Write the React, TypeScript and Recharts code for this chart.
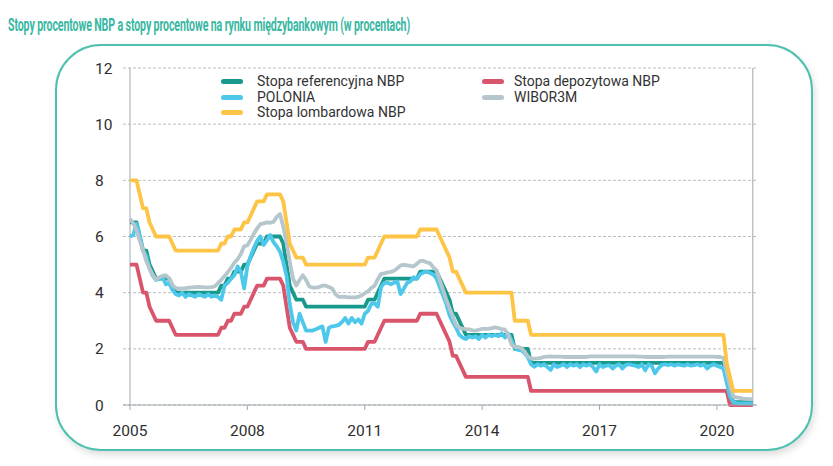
import React, { useLayoutEffect, useRef, useState } from 'react';
import { LineChart, Line, XAxis, YAxis, CartesianGrid, ReferenceLine } from 'recharts';

const W = 833;
const H = 466;
const FONT = 'Roboto, "Noto Sans", sans-serif';
const TITLE = 'Stopy procentowe NBP a stopy procentowe na rynku międzybankowym (w procentach)';

const X_TICKS = [2005, 2008, 2011, 2014, 2017, 2020];
const Y_TICKS = [0, 2, 4, 6, 8, 10, 12];
const YEARS = [2005, 2006, 2007, 2008, 2009, 2010, 2011, 2012, 2013, 2014, 2015, 2016, 2017, 2018, 2019, 2020];

// Stopa referencyjna NBP, monthly 2005-01 .. 2020-12
const REF = [
  6.5, 6.5, 6.5, 6.0, 5.5, 5.5, 5.0, 4.75, 4.5, 4.5, 4.5, 4.5,
  4.5, 4.25, 4.0, 4.0, 4.0, 4.0, 4.0, 4.0, 4.0, 4.0, 4.0, 4.0,
  4.0, 4.0, 4.0, 4.0, 4.25, 4.25, 4.5, 4.5, 4.75, 4.75, 4.75, 5.0,
  5.0, 5.25, 5.5, 5.75, 5.75, 5.75, 6.0, 6.0, 6.0, 6.0, 6.0, 5.75,
  5.0, 4.25, 4.0, 3.75, 3.75, 3.75, 3.5, 3.5, 3.5, 3.5, 3.5, 3.5,
  3.5, 3.5, 3.5, 3.5, 3.5, 3.5, 3.5, 3.5, 3.5, 3.5, 3.5, 3.5,
  3.5, 3.75, 3.75, 3.75, 4.0, 4.25, 4.5, 4.5, 4.5, 4.5, 4.5, 4.5,
  4.5, 4.5, 4.5, 4.5, 4.5, 4.75, 4.75, 4.75, 4.75, 4.75, 4.75, 4.5,
  4.25, 4.0, 3.75, 3.25, 3.25, 3.0, 2.75, 2.5, 2.5, 2.5, 2.5, 2.5,
  2.5, 2.5, 2.5, 2.5, 2.5, 2.5, 2.5, 2.5, 2.5, 2.5, 2.0, 2.0,
  2.0, 2.0, 2.0, 1.5, 1.5, 1.5, 1.5, 1.5, 1.5, 1.5, 1.5, 1.5,
  1.5, 1.5, 1.5, 1.5, 1.5, 1.5, 1.5, 1.5, 1.5, 1.5, 1.5, 1.5,
  1.5, 1.5, 1.5, 1.5, 1.5, 1.5, 1.5, 1.5, 1.5, 1.5, 1.5, 1.5,
  1.5, 1.5, 1.5, 1.5, 1.5, 1.5, 1.5, 1.5, 1.5, 1.5, 1.5, 1.5,
  1.5, 1.5, 1.5, 1.5, 1.5, 1.5, 1.5, 1.5, 1.5, 1.5, 1.5, 1.5,
  1.5, 1.5, 1.5, 1.0, 0.5, 0.1, 0.1, 0.1, 0.1, 0.1, 0.1, 0.1,
];

// Stopa lombardowa NBP
const LOMB = [
  8.0, 8.0, 8.0, 7.5, 7.0, 7.0, 6.5, 6.25, 6.0, 6.0, 6.0, 6.0,
  6.0, 5.75, 5.5, 5.5, 5.5, 5.5, 5.5, 5.5, 5.5, 5.5, 5.5, 5.5,
  5.5, 5.5, 5.5, 5.5, 5.75, 5.75, 6.0, 6.0, 6.25, 6.25, 6.25, 6.5,
  6.5, 6.75, 7.0, 7.25, 7.25, 7.25, 7.5, 7.5, 7.5, 7.5, 7.5, 7.25,
  6.5, 5.75, 5.5, 5.25, 5.25, 5.25, 5.0, 5.0, 5.0, 5.0, 5.0, 5.0,
  5.0, 5.0, 5.0, 5.0, 5.0, 5.0, 5.0, 5.0, 5.0, 5.0, 5.0, 5.0,
  5.0, 5.25, 5.25, 5.25, 5.5, 5.75, 6.0, 6.0, 6.0, 6.0, 6.0, 6.0,
  6.0, 6.0, 6.0, 6.0, 6.0, 6.25, 6.25, 6.25, 6.25, 6.25, 6.25, 6.0,
  5.75, 5.5, 5.25, 4.75, 4.75, 4.5, 4.25, 4.0, 4.0, 4.0, 4.0, 4.0,
  4.0, 4.0, 4.0, 4.0, 4.0, 4.0, 4.0, 4.0, 4.0, 4.0, 3.0, 3.0,
  3.0, 3.0, 3.0, 2.5, 2.5, 2.5, 2.5, 2.5, 2.5, 2.5, 2.5, 2.5,
  2.5, 2.5, 2.5, 2.5, 2.5, 2.5, 2.5, 2.5, 2.5, 2.5, 2.5, 2.5,
  2.5, 2.5, 2.5, 2.5, 2.5, 2.5, 2.5, 2.5, 2.5, 2.5, 2.5, 2.5,
  2.5, 2.5, 2.5, 2.5, 2.5, 2.5, 2.5, 2.5, 2.5, 2.5, 2.5, 2.5,
  2.5, 2.5, 2.5, 2.5, 2.5, 2.5, 2.5, 2.5, 2.5, 2.5, 2.5, 2.5,
  2.5, 2.5, 2.5, 1.5, 1.0, 0.5, 0.5, 0.5, 0.5, 0.5, 0.5, 0.5,
];

// Stopa depozytowa NBP
const DEP = [
  5.0, 5.0, 5.0, 4.5, 4.0, 4.0, 3.5, 3.25, 3.0, 3.0, 3.0, 3.0,
  3.0, 2.75, 2.5, 2.5, 2.5, 2.5, 2.5, 2.5, 2.5, 2.5, 2.5, 2.5,
  2.5, 2.5, 2.5, 2.5, 2.75, 2.75, 3.0, 3.0, 3.25, 3.25, 3.25, 3.5,
  3.5, 3.75, 4.0, 4.25, 4.25, 4.25, 4.5, 4.5, 4.5, 4.5, 4.5, 4.25,
  3.5, 2.75, 2.5, 2.25, 2.25, 2.25, 2.0, 2.0, 2.0, 2.0, 2.0, 2.0,
  2.0, 2.0, 2.0, 2.0, 2.0, 2.0, 2.0, 2.0, 2.0, 2.0, 2.0, 2.0,
  2.0, 2.25, 2.25, 2.25, 2.5, 2.75, 3.0, 3.0, 3.0, 3.0, 3.0, 3.0,
  3.0, 3.0, 3.0, 3.0, 3.0, 3.25, 3.25, 3.25, 3.25, 3.25, 3.25, 3.0,
  2.75, 2.5, 2.25, 1.75, 1.75, 1.5, 1.25, 1.0, 1.0, 1.0, 1.0, 1.0,
  1.0, 1.0, 1.0, 1.0, 1.0, 1.0, 1.0, 1.0, 1.0, 1.0, 1.0, 1.0,
  1.0, 1.0, 1.0, 0.5, 0.5, 0.5, 0.5, 0.5, 0.5, 0.5, 0.5, 0.5,
  0.5, 0.5, 0.5, 0.5, 0.5, 0.5, 0.5, 0.5, 0.5, 0.5, 0.5, 0.5,
  0.5, 0.5, 0.5, 0.5, 0.5, 0.5, 0.5, 0.5, 0.5, 0.5, 0.5, 0.5,
  0.5, 0.5, 0.5, 0.5, 0.5, 0.5, 0.5, 0.5, 0.5, 0.5, 0.5, 0.5,
  0.5, 0.5, 0.5, 0.5, 0.5, 0.5, 0.5, 0.5, 0.5, 0.5, 0.5, 0.5,
  0.5, 0.5, 0.5, 0.5, 0.0, 0.0, 0.0, 0.0, 0.0, 0.0, 0.0, 0.0,
];

// POLONIA
const POLONIA = [
  6.0, 6.05, 6.45, 6.0, 5.5, 5.3, 4.85, 4.6, 4.45, 4.5, 4.55, 4.3,
  4.35, 4.1, 3.95, 3.9, 4.0, 3.85, 3.95, 3.9, 3.85, 3.95, 3.9, 3.85,
  3.95, 3.85, 3.9, 3.85, 3.75, 4.25, 4.35, 4.5, 4.62, 4.93, 4.75, 4.15,
  4.95, 5.3, 5.6, 5.85, 6.0, 5.7, 5.87, 6.05, 5.8, 5.65, 5.46, 5.1,
  4.6, 3.6, 2.95, 2.65, 3.25, 2.95, 2.65, 2.65, 2.65, 2.7, 2.75, 2.8,
  2.25, 2.75, 2.8, 2.82, 2.85, 2.95, 3.1, 2.9, 3.1, 2.95, 3.05, 2.9,
  3.25, 3.35, 3.6, 3.62, 3.5, 4.2, 4.35, 4.35, 4.3, 4.35, 4.4, 3.95,
  4.15, 4.35, 4.4, 4.55, 4.5, 4.65, 4.72, 4.75, 4.7, 4.65, 4.5, 4.2,
  3.9, 3.6, 3.2, 2.95, 2.75, 2.5, 2.4, 2.35, 2.45, 2.4, 2.45, 2.35,
  2.5, 2.4, 2.5, 2.45, 2.5, 2.45, 2.55, 2.4, 2.55, 2.3, 2.05, 1.96,
  1.95, 1.85, 1.7, 1.45, 1.36, 1.45, 1.4, 1.45, 1.35, 1.25, 1.45, 1.35,
  1.4, 1.45, 1.35, 1.45, 1.4, 1.45, 1.35, 1.45, 1.4, 1.45, 1.35, 1.19,
  1.45, 1.35, 1.4, 1.42, 1.3, 1.4, 1.45, 1.3, 1.42, 1.45, 1.42, 1.4,
  1.35, 1.45, 1.23, 1.45, 1.4, 1.13, 1.3, 1.42, 1.45, 1.42, 1.45, 1.4,
  1.45, 1.42, 1.4, 1.45, 1.4, 1.42, 1.45, 1.4, 1.45, 1.3, 1.4, 1.45,
  1.4, 1.35, 1.3, 0.8, 0.3, 0.1, 0.06, 0.06, 0.06, 0.06, 0.06, 0.06,
];

// WIBOR3M
const WIBOR = [
  6.63, 6.47, 6.22, 5.84, 5.5, 5.12, 4.86, 4.63, 4.47, 4.55, 4.6, 4.62,
  4.51, 4.27, 4.17, 4.14, 4.15, 4.15, 4.18, 4.19, 4.2, 4.21, 4.2, 4.19,
  4.19, 4.2, 4.22, 4.34, 4.46, 4.59, 4.73, 4.88, 5.07, 5.19, 5.38, 5.65,
  5.69, 5.88, 6.1, 6.29, 6.44, 6.47, 6.5, 6.49, 6.52, 6.7, 6.8, 6.35,
  5.8, 5.1, 4.5, 4.25, 4.45, 4.62, 4.45, 4.22, 4.18, 4.18, 4.2, 4.25,
  4.25, 4.2, 4.15, 3.95, 3.85, 3.85, 3.85, 3.83, 3.83, 3.83, 3.85, 3.9,
  3.98, 4.05, 4.17, 4.24, 4.48, 4.67, 4.69, 4.72, 4.74, 4.78, 4.87, 4.97,
  4.99, 4.97, 4.95, 4.94, 5.03, 5.13, 5.13, 5.08, 5.05, 4.9, 4.8, 4.45,
  4.1, 3.75, 3.45, 3.15, 2.85, 2.75, 2.72, 2.7, 2.69, 2.66, 2.65, 2.68,
  2.71, 2.71, 2.71, 2.74, 2.76, 2.74, 2.7, 2.68, 2.5, 2.15, 2.07, 2.07,
  2.03, 1.9, 1.73, 1.66, 1.65, 1.66, 1.68, 1.71, 1.72, 1.73, 1.72, 1.72,
  1.72, 1.71, 1.71, 1.71, 1.71, 1.71, 1.71, 1.71, 1.71, 1.73, 1.73, 1.73,
  1.73, 1.73, 1.73, 1.73, 1.73, 1.73, 1.73, 1.73, 1.73, 1.73, 1.73, 1.73,
  1.72, 1.72, 1.71, 1.71, 1.71, 1.71, 1.71, 1.71, 1.71, 1.72, 1.72, 1.72,
  1.72, 1.72, 1.72, 1.72, 1.72, 1.72, 1.72, 1.72, 1.72, 1.72, 1.72, 1.72,
  1.71, 1.71, 1.68, 1.17, 0.69, 0.3, 0.27, 0.25, 0.23, 0.22, 0.21, 0.21,
];

const SERIES = [
  { key: 'ref', name: 'Stopa referencyjna NBP', color: '#17998b', values: REF },
  { key: 'dep', name: 'Stopa depozytowa NBP', color: '#d8556c', values: DEP },
  { key: 'polonia', name: 'POLONIA', color: '#4dc8ea', values: POLONIA },
  { key: 'wibor', name: 'WIBOR3M', color: '#b6c6cd', values: WIBOR },
  { key: 'lomb', name: 'Stopa lombardowa NBP', color: '#fec445', values: LOMB },
];

const LEGEND_ORDER = ['ref', 'dep', 'polonia', 'wibor', 'lomb'];

const MONTH_T: number[] = [];
YEARS.forEach((y) => {
  for (let m = 0; m < 12; m++) MONTH_T.push(y + m / 12);
});

const DATA = MONTH_T.map((t, i) => {
  const row: Record<string, number> = { t };
  SERIES.forEach((s) => {
    row[s.key] = s.values[i];
  });
  return row;
});

const LAST_T = MONTH_T[MONTH_T.length - 1];
const AXIS = '#9ea8ad';

const YTick = (props: any) => {
  const { y, payload } = props;
  return (
    <text x={95} y={y} dy="0.36em" textAnchor="start" fontSize={15.5} fill="#2e2e2e" fontFamily={FONT}>
      {payload.value}
    </text>
  );
};

const XTick = (props: any) => {
  const { x, y, payload } = props;
  return (
    <text x={x} y={y} dy={24} textAnchor="middle" fontSize={15.5} fill="#2e2e2e" fontFamily={FONT}>
      {payload.value}
    </text>
  );
};

const Title = () => {
  const ref = useRef<HTMLSpanElement>(null);
  const [scale, setScale] = useState(1);
  useLayoutEffect(() => {
    if (ref.current) {
      const w = ref.current.getBoundingClientRect().width;
      if (w > 0) setScale(402 / w);
    }
  }, []);
  return (
    <span
      ref={ref}
      style={{
        position: 'absolute',
        left: 8,
        top: 15,
        fontFamily: FONT,
        fontWeight: 700,
        fontSize: 17.5,
        lineHeight: '20px',
        color: '#38b7a2',
        whiteSpace: 'nowrap',
        display: 'inline-block',
        transformOrigin: 'left top',
        transform: `scaleX(${scale})`,
        letterSpacing: -0.2,
      }}
    >
      {TITLE}
    </span>
  );
};

const ChartLegend = () => (
  <div
    style={{
      position: 'absolute',
      left: 221,
      top: 74,
      display: 'grid',
      gridTemplateColumns: '261px 200px',
      fontFamily: FONT,
      fontSize: 14,
      color: '#333',
      lineHeight: '15.5px',
    }}
  >
    {LEGEND_ORDER.map((k) => {
      const s = SERIES.find((q) => q.key === k)!;
      return (
        <div key={k} style={{ display: 'flex', alignItems: 'center', height: 15.5 }}>
          <span
            style={{
              display: 'inline-block',
              width: 22,
              height: 5,
              borderRadius: 3,
              background: s.color,
              marginRight: k === 'dep' || k === 'wibor' ? 10 : 14,
            }}
          />
          <span>{s.name}</span>
        </div>
      );
    })}
  </div>
);

export default function App() {
  return (
    <div style={{ position: 'absolute', left: 0, top: 0, width: W, height: H, background: '#fff', overflow: 'hidden' }}>
      <Title />
      <div
        style={{
          position: 'absolute',
          left: 55,
          top: 44,
          width: 754,
          height: 403,
          border: '2px solid #4fc0ad',
          borderRadius: 46,
          boxShadow: '2px 4px 7px rgba(0,0,0,0.13)',
        }}
      />
      <div style={{ position: 'absolute', left: 0, top: 0 }}>
        <LineChart width={W} height={H} data={DATA} margin={{ top: 68, right: 76, bottom: 31, left: 95 }}>
          <CartesianGrid vertical={false} stroke="#b9bdbf" strokeDasharray="3 2" />
          <XAxis
            dataKey="t"
            type="number"
            domain={[2004.821, 2021.024]}
            ticks={X_TICKS}
            tick={<XTick />}
            tickSize={5}
            tickLine={{ stroke: AXIS }}
            axisLine={{ stroke: AXIS }}
            height={30}
            interval={0}
            allowDataOverflow
          />
          <YAxis
            type="number"
            domain={[0, 12]}
            ticks={Y_TICKS}
            tick={<YTick />}
            axisLine={false}
            tickLine={false}
            width={28}
            interval={0}
          />
          <ReferenceLine x={2005} stroke={AXIS} strokeWidth={1} />
          <ReferenceLine x={LAST_T} stroke={AXIS} strokeWidth={1} />
          {SERIES.map((s) => (
            <Line
              key={s.key}
              type="linear"
              dataKey={s.key}
              name={s.name}
              stroke={s.color}
              strokeWidth={3.8}
              strokeLinejoin="round"
              dot={false}
              activeDot={false}
              isAnimationActive={false}
            />
          ))}
        </LineChart>
      </div>
      <ChartLegend />
    </div>
  );
}
